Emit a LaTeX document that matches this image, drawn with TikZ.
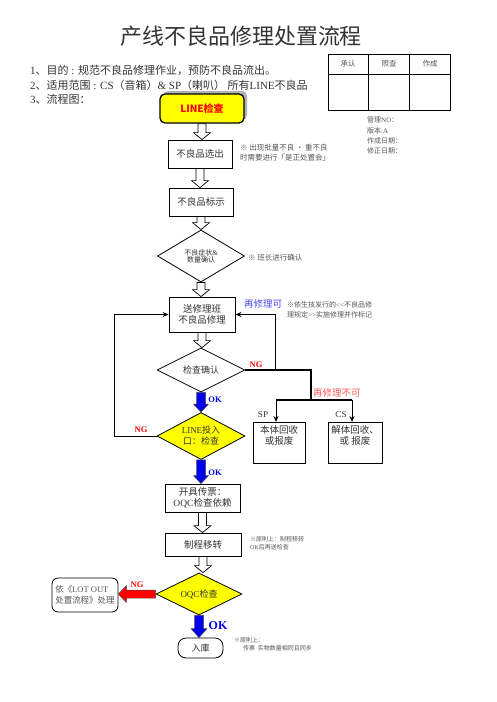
\documentclass[tikz,border=0pt]{standalone}
\usepackage{fontspec}
\setmainfont{Liberation Serif}
\newfontfamily\cjk{Noto Sans CJK SC}
\usetikzlibrary{shapes.geometric,arrows.meta,calc}
\newcommand\zh[1]{{\cjk #1}}
\newcommand\fs[1]{\fontsize{#1}{#1}\selectfont}
\definecolor{txt}{HTML}{333333}
\definecolor{note}{HTML}{555555}
\definecolor{ylw}{HTML}{FFFF00}
\definecolor{okblue}{HTML}{0000EE}
\definecolor{ngred}{HTML}{FF0000}
\definecolor{repblue}{HTML}{4A4AF0}
\definecolor{reppink}{HTML}{FF5A5A}
% vertical block arrow from #1 (top) to #2 (bottom); #3 style, #4 shaft half width, #5 head half width, #6 head length
\newcommand\varrow[6]{\draw[#3] let \p1=(#1), \p2=(#2) in
  (\x1-#4,\y1) -- (\x1-#4,\y2+#6) -- (\x1-#5,\y2+#6) -- (\x1,\y2) -- (\x1+#5,\y2+#6) -- (\x1+#4,\y2+#6) -- (\x1+#4,\y1) -- cycle;}
% horizontal block arrow pointing left from #1 (right) to #2 (left)
\newcommand\larrow[6]{\draw[#3] let \p1=(#1), \p2=(#2) in
  (\x1,\y1-#4) -- (\x2+#6,\y1-#4) -- (\x2+#6,\y1-#5) -- (\x2,\y1) -- (\x2+#6,\y1+#5) -- (\x2+#6,\y1+#4) -- (\x1,\y1+#4) -- cycle;}
\tikzset{
  box/.style={draw, line width=0.8pt, rectangle, align=center, text=txt, inner sep=1pt, font=\fs{9.5}},
  dia/.style={diamond, draw, line width=0.8pt, align=center, text=txt, inner sep=0pt, aspect=2, font=\fs{9}},
  ydia/.style={dia, fill=ylw},
  notetext/.style={anchor=west, text=note, inner sep=0pt, font=\fs{7.5}},
  small/.style={anchor=west, text=note, inner sep=0pt, font=\fs{6}},
  hollow/.style={draw=black, fill=white, line width=0.7pt},
  bluearr/.style={draw=black!70, fill=okblue, line width=0.5pt},
  redarr/.style={draw=black!70, fill=ngred, line width=0.5pt},
  conn/.style={line width=1pt},
  connarrow/.style={line width=1pt, -{Stealth[length=6pt,width=5pt]}},
  nglabel/.style={text=ngred, font=\bfseries\fs{8.5}, inner sep=0pt},
  oklabel/.style={text=okblue, font=\bfseries\fs{8.5}, inner sep=0pt},
}
\begin{document}
\begin{tikzpicture}[x=1pt,y=-1pt]
\useasboundingbox (0,0) rectangle (496,702);
\fill[white] (0,0) rectangle (496,702);

% title and intro
\node[text=black!80, font=\cjk\fs{22}] (title) at (241,36) {产线不良品修理处置流程};
\node[anchor=west, text=txt, font=\fs{11}, inner sep=0pt] (l1) at (30,70) {1\zh{、目的} : \zh{规范不良品修理作业，预防不良品流出。}};
\node[anchor=west, text=txt, font=\fs{11}, inner sep=0pt] (l2) at (30,85) {2\zh{、适用范围} : CS\zh{（音箱）}\& SP\zh{（喇叭） 所有}LINE\zh{不良品}};
\node[anchor=west, text=txt, font=\fs{11}, inner sep=0pt] (l3) at (30,99) {3\zh{、流程图：}};

% approval table
\draw[line width=0.8pt] (328,54) rectangle (450,110);
\draw[line width=0.8pt] (328,74) -- (450,74);
\draw[line width=0.8pt] (368,54) -- (368,110);
\draw[line width=0.8pt] (409,54) -- (409,110);
\node[text=note, font=\cjk\fs{7.5}] (h1) at (348,64) {承认};
\node[text=note, font=\cjk\fs{7.5}] (h2) at (389,64) {照查};
\node[text=note, font=\cjk\fs{7.5}] (h3) at (430,64) {作成};
\node[notetext, font=\fs{7}] (m1) at (367,120) {\zh{管理}NO\zh{：}};
\node[notetext, font=\fs{7}] (m2) at (367,131) {\zh{版本}:A};
\node[notetext, font=\fs{7}] (m3) at (367,141) {\zh{作成日期：}};
\node[notetext, font=\fs{7}] (m4) at (367,151) {\zh{修正日期：}};

% start box with shadow
\fill[black!30, rounded corners=5pt] (163,91) rectangle (247,120);
\node[draw, line width=1.3pt, fill=ylw, rounded corners=5pt, minimum width=84, minimum height=29, inner sep=0pt,
      text=ngred, font=\cjk\bfseries\fs{10}] (start) at (202,108.5) {LINE检查};

\node[box, minimum width=64, minimum height=28] (pick) at (200,154) {\zh{不良品选出}};
\node[notetext] (n1) at (240,148) {\zh{※ 出现批量不良 ・ 重不良}};
\node[notetext] (n1b) at (240,158) {\zh{时需要进行「是正处置会」}};

\node[box, minimum width=64, minimum height=28] (mark) at (201,202) {\zh{不良品标示}};

\node[dia, minimum width=87, minimum height=52, font=\fs{7}] (conf) at (201,256) {\zh{不良症状}\&\\\zh{数量确认}};
\node[notetext] (n2) at (248,258) {\zh{※ 班长进行确认}};

\node[box, minimum width=66, minimum height=35] (repair) at (202,314.5) {\zh{送修理班}\\[2pt]\zh{不良品修理}};
\node[anchor=west, text=repblue, font=\cjk\fs{9.5}, inner sep=0pt] (again) at (244,304) {再修理可};
\node[notetext, font=\fs{7}] (n3) at (287,305) {\zh{※依生技发行的}{<}{<}\zh{不良品修}};
\node[notetext, font=\fs{7}] (n3b) at (287,315) {\zh{理规定}{>}{>}\zh{实施修理并作标记}};

\node[dia, minimum width=88, minimum height=44, font=\cjk\fs{9}] (chk) at (201,370) {检查确认};
\node[nglabel] (ng1) at (256,365) {NG};

\node[anchor=west, text=reppink, font=\cjk\fs{9.5}, inner sep=0pt] (noagain) at (313,393) {再修理不可};
\node[text=txt, font=\fs{9}, inner sep=0pt] (splab) at (263,415) {SP};
\node[text=txt, font=\fs{9}, inner sep=0pt] (cslab) at (341,415) {CS};
\node[box, minimum width=52, minimum height=41, anchor=north, inner sep=0pt, text depth=16pt] (sp) at (279,422) {\zh{本体回收}\\[2pt]\zh{或报废}};
\node[box, minimum width=54, minimum height=41, anchor=north, inner sep=0pt, text depth=16pt] (cs) at (355,422) {\zh{解体回收、}\\[2pt]\zh{或 报废}};

\node[ydia, minimum width=88, minimum height=47] (lin) at (201,436) {LINE\zh{投入}\\[2pt]\zh{口：检查}};
\node[nglabel] (ng2) at (141,430) {NG};
\node[oklabel] (ok1) at (215,400) {OK};
\node[oklabel] (ok2) at (215,473) {OK};

\node[box, minimum width=75, minimum height=28] (ticket) at (202.5,498) {\zh{开具传票：}\\[1pt]OQC\zh{检查依赖}};

\node[box, minimum width=76, minimum height=23] (move) at (203,544.5) {\zh{制程移转}};
\node[small] (n4) at (250,539) {\zh{※原則上：制程移转}};
\node[small] (n4b) at (250,547) {OK\zh{后再送检查}};

\node[ydia, minimum width=86, minimum height=42] (oqc) at (199,594) {OQC\zh{检查}};
\node[nglabel] (ng3) at (137,585) {NG};
\node[draw, line width=0.8pt, rounded corners=6pt, minimum width=66, minimum height=34, align=left, text=note,
      font=\fs{8.5}, inner sep=2pt] (lot) at (85,595) {\zh{依《}LOT OUT\\[2pt]\zh{处置流程》处理}};
\node[oklabel, font=\bfseries\fs{12}] (ok3) at (218,626) {OK};
\node[draw, line width=0.8pt, rounded corners=8pt, minimum width=45, minimum height=20, text=txt, font=\cjk\fs{9}] (store) at (200.5,648) {入庫};
\node[small] (n5) at (234,640) {\zh{※原則上：}};
\node[small] (n5b) at (243,648) {\zh{传票\ \ 实物数量相同且同步}};

% block arrows
\varrow{start.south}{pick.north}{hollow}{4pt}{8.5pt}{7pt}
\varrow{pick.south}{mark.north}{hollow}{4pt}{8.5pt}{7pt}
\varrow{mark.south}{conf.north}{hollow}{4pt}{8.5pt}{7pt}
\varrow{conf.south}{repair.north}{hollow}{4pt}{8.5pt}{7pt}
\varrow{repair.south}{chk.north}{hollow}{4pt}{8.5pt}{7pt}
\varrow{chk.south}{lin.north}{bluearr}{4.5pt}{7.5pt}{8pt}
\varrow{lin.south}{ticket.north}{bluearr}{4.5pt}{7.5pt}{8pt}
\varrow{ticket.south}{move.north}{hollow}{4pt}{8.5pt}{7pt}
\varrow{move.south}{oqc.north}{hollow}{4pt}{8.5pt}{7pt}
\varrow{oqc.south}{store.north}{bluearr}{4.5pt}{8pt}{9pt}
\larrow{oqc.west}{lot.east}{redarr}{4pt}{8.5pt}{8pt}

% connectors
\coordinate (rj) at (275,370);
\coordinate (r1) at (311,370);
\coordinate (r2) at (311,400);
\coordinate (spj) at (276,400);
\coordinate (csj) at (352,400);
\coordinate (lj) at (114,436);
\draw[line width=1.3pt] (chk.east) -- (r1) -- (r2);
\draw[line width=1.3pt] (spj) -- (csj);
\draw[connarrow] (spj) -- (spj |- sp.north);
\draw[connarrow] (csj) -- (csj |- cs.north);
\draw[connarrow] (rj) |- (repair.east);
\draw[connarrow] (lin.west) -- (lj) |- (repair.west);
\end{tikzpicture}
\end{document}
